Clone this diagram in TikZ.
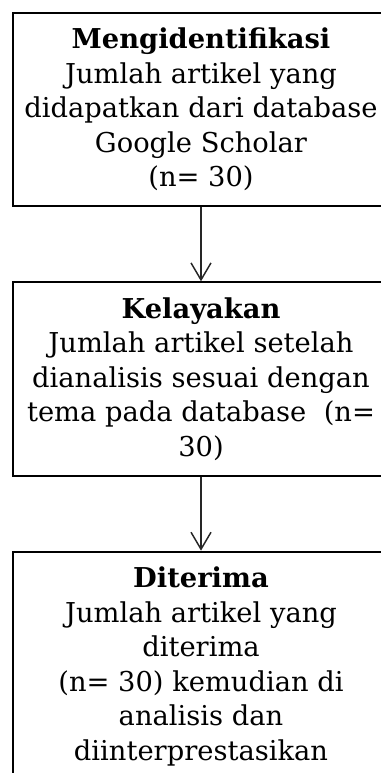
\documentclass[tikz,border=0pt]{standalone}
\usepackage{fontspec}
\setmainfont{DejaVu Serif}
\usetikzlibrary{positioning,arrows.meta}
\tikzstyle{block} = [rectangle, draw, line width=1.5pt, align=center,
    font=\fontsize{20.5pt}{25.9pt}\selectfont, minimum width=282pt,
    minimum height=145pt, inner ysep=9pt]
\begin{document}
\begin{tikzpicture}[x=0.75pt, y=-0.75pt, node distance=55.5pt,
    >={Straight Barb[length=12.75pt,width=15pt]}]

    \useasboundingbox (0,0) rectangle (381,773);
    \clip (0,0) rectangle (381,773);

    % Nodes
    \node [block, anchor=north] (ident) at (201,12) {\textbf{Mengidentifikasi}\\
        Jumlah artikel yang\\ didapatkan dari database\\ Google Scholar\\ (n= 30)};
    \node [block, below=of ident] (layak) {\textbf{Kelayakan}\\
        Jumlah artikel setelah\\ dianalisis sesuai dengan\\ tema pada database~ (n=\\ 30)};
    \node [block, below=of layak, minimum height=172pt] (terima) {\textbf{Diterima}\\
        Jumlah artikel yang\\ diterima\\ (n= 30) kemudian di\\ analisis dan\\ diinterprestasikan};

    % Connections
    \draw [->, line width=1.1pt, black!85] (ident) -- (layak);
    \draw [->, line width=1.1pt, black!85] (layak) -- (terima);

\end{tikzpicture}
\end{document}
